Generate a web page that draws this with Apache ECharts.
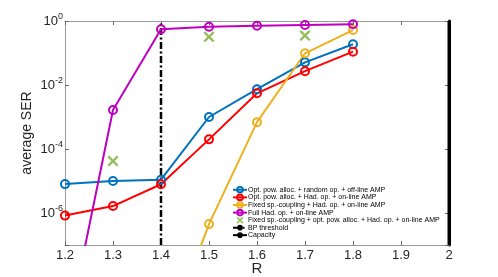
<!DOCTYPE html>
<html><head><meta charset="utf-8">
<script src="https://cdn.jsdelivr.net/npm/echarts@6/dist/echarts.min.js"></script>
<style>html,body{margin:0;padding:0;background:#fff}#c{width:498px;height:277px}</style>
</head><body><div id="c"></div>
<script>
const R = [1.2, 1.3, 1.4, 1.5, 1.6, 1.7, 1.8];
const blueVals = [8e-6, 1e-5, 1.1e-5, 1e-3, 7.4e-3, 5.1e-2, 0.187];
const redVals = [8.3e-7, 1.65e-6, 7.9e-6, 2e-4, 5.5e-3, 2.7e-2, 0.11];
const yellowR = [1.4, 1.5, 1.6, 1.7, 1.8];
const yellowVals = [4.5e-11, 4.5e-7, 6.9e-4, 0.098, 0.52];
const magentaVals = [8e-11, 1.65e-3, 0.55, 0.66, 0.71, 0.75, 0.79];
const greenR = [1.3, 1.5, 1.7];
const greenVals = [4.2e-5, 0.32, 0.35];
const bpR = 1.4;
const capR = 2.0;
const yRange = [1e-7, 1];
const names = [
  "Opt. pow. alloc. + random op. + off-line AMP",
  "Opt. pow. alloc. + Had. op. + on-line AMP",
  "Fixed sp.-coupling + Had. op. + on-line AMP",
  "Full Had. op. + on-line AMP",
  "Fixed sp.-coupling + opt. pow. alloc. + Had. op. + on-line AMP",
  "BP threshold",
  "Capacity"
];
const colors = ['#0072BD', '#FF0000', '#EDB120', '#BF00BF', '#77AC30'];

const pair = (xs, ys) => xs.map((x, i) => [x, ys[i]]);
const font = 'Liberation Sans, Arial, sans-serif';
const xPath = 'path://M0,1.5 L1.5,0 L5,3.5 L8.5,0 L10,1.5 L6.5,5 L10,8.5 L8.5,10 L5,6.5 L1.5,10 L0,8.5 L3.5,5 Z';

function lineSeries(name, data, color) {
  return {
    name, type: 'line', data, xAxisIndex: 0, yAxisIndex: 0,
    symbol: 'circle', symbolSize: 8, showAllSymbol: true,
    lineStyle: { color, width: 2 },
    itemStyle: { color: 'rgba(255,255,255,0)', borderColor: color, borderWidth: 2 },
    clip: true, z: 3
  };
}

const chart = echarts.init(document.getElementById('c'), null, { renderer: 'canvas' });
const yLabelFmt = v => {
  const e = Math.round(Math.log10(v));
  if (Math.abs(Math.log10(v) - e) > 1e-6 || e % 2 !== 0) return '';
  return '{b|10}{e|' + e + '}';
};
chart.setOption({
  animation: false,
  textStyle: { fontFamily: font },
  grid: { left: 65, right: 49, top: 21, bottom: 32, containLabel: false, outerBoundsMode: 'none' },
  xAxis: [{
    type: 'value', min: 1.2, max: 2, interval: 0.1, position: 'bottom',
    name: 'R', nameLocation: 'middle', nameGap: 16, nameMoveOverlap: false,
    nameTextStyle: { fontSize: 15, color: '#262626', fontFamily: font },
    axisLine: { lineStyle: { color: '#999', width: 1 } },
    axisTick: { inside: true, length: 4, lineStyle: { color: '#666' } },
    axisLabel: { fontSize: 13, color: '#262626', margin: 4, fontFamily: font,
      formatter: v => (Math.round(v * 10) / 10).toString() },
    splitLine: { show: false }
  }, {
    type: 'value', min: 1.2, max: 2, interval: 0.1, position: 'top',
    axisLine: { lineStyle: { color: '#999', width: 1 } },
    axisTick: { inside: true, length: 4, lineStyle: { color: '#666' } },
    axisLabel: { show: false }, splitLine: { show: false }
  }],
  yAxis: [{
    type: 'log', logBase: 100, min: yRange[0], max: yRange[1], position: 'left',
    name: 'average SER', nameLocation: 'middle', nameGap: 31, nameMoveOverlap: false,
    nameTextStyle: { fontSize: 14, color: '#262626', fontFamily: font },
    axisLine: { show: true, lineStyle: { color: '#999', width: 1 } },
    axisTick: { inside: true, length: 4, lineStyle: { color: '#666' } },
    axisLabel: { color: '#262626', margin: 2, formatter: yLabelFmt,
      rich: { b: { fontSize: 13, color: '#262626', fontFamily: font },
              e: { fontSize: 9, color: '#262626', fontFamily: font, padding: [0, 0, 8, 0] } } },
    splitLine: { show: false }
  }, {
    type: 'log', logBase: 100, min: yRange[0], max: yRange[1], position: 'right',
    axisLine: { show: true, lineStyle: { color: '#000', width: 3 } },
    axisTick: { inside: true, length: 4, lineStyle: { color: '#666' } },
    axisLabel: { show: false }, splitLine: { show: false }
  }],
  legend: {
    orient: 'vertical', left: 232, top: 186, itemGap: 0,
    itemWidth: 14, itemHeight: 7, padding: 0,
    textStyle: { fontSize: 7, color: '#000', fontFamily: font, padding: [0, 0, 0, -4], lineHeight: 7.5 },
    data: names
  },
  series: [
    lineSeries(names[0], pair(R, blueVals), colors[0]),
    lineSeries(names[1], pair(R, redVals), colors[1]),
    lineSeries(names[2], pair(yellowR, yellowVals), colors[2]),
    lineSeries(names[3], pair(R, magentaVals), colors[3]),
    {
      name: names[4], type: 'scatter', data: pair(greenR, greenVals),
      symbol: xPath, symbolSize: 11, itemStyle: { color: colors[4] }, z: 4
    },
    {
      name: names[5], type: 'line', data: [[bpR, yRange[0]], [bpR, yRange[1]]],
      symbol: 'none', lineStyle: { color: '#000', width: 2.5, type: [7, 2.5, 2, 2.5] },
      itemStyle: { color: '#000' }, z: 2
    },
    {
      name: names[6], type: 'line', data: [[capR, yRange[0]], [capR, yRange[1]]],
      symbol: 'none', clip: false, lineStyle: { color: '#000', width: 3 },
      itemStyle: { color: '#000' }, z: 2
    }
  ]
});
</script></body></html>
